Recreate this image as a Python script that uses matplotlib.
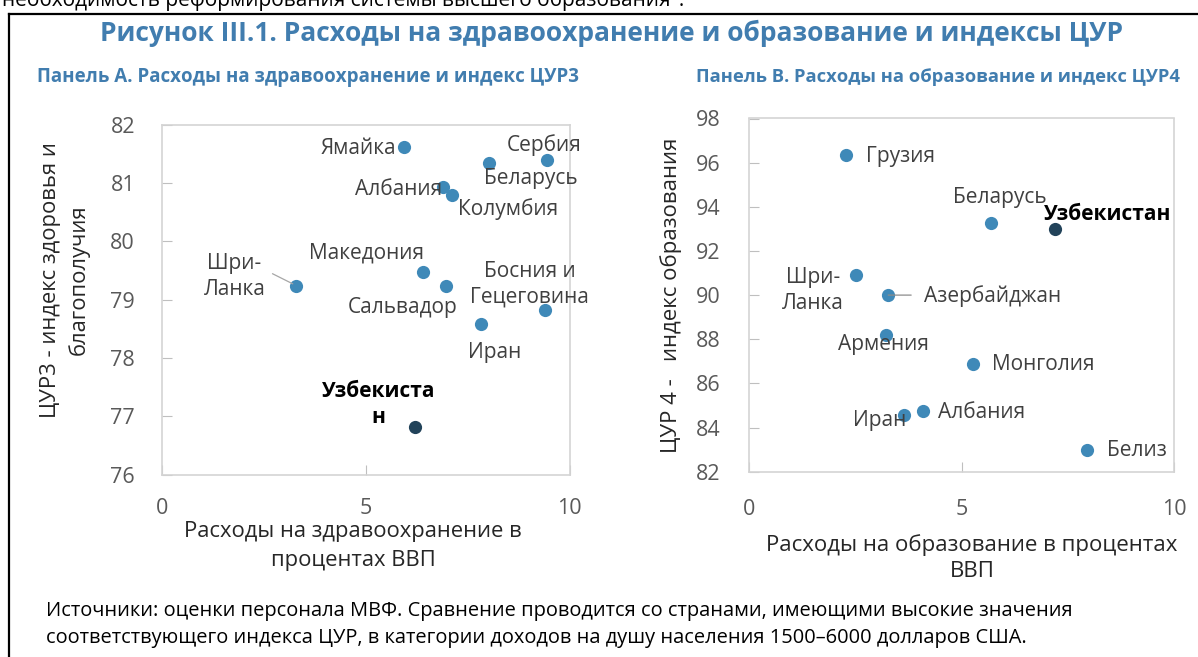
import matplotlib
matplotlib.use("Agg")
import matplotlib.pyplot as plt
from matplotlib.lines import Line2D

plt.rcParams['font.family'] = ['Open Sans', 'DejaVu Sans']

W, H = 1198, 657

# Panel A: health spending (% of GDP) vs SDG3 index
health_countries = ['Ямайка', 'Сербия', 'Беларусь', 'Албания', 'Колумбия', 'Македония',
                    'Шри-Ланка', 'Сальвадор', 'Босния и Гецеговина', 'Иран', 'Узбекистан']
health_spend = [5.95, 9.45, 8.02, 6.89, 7.11, 6.40, 3.30, 6.98, 9.41, 7.83, 6.20]
health_sdg3 = [81.62, 81.40, 81.34, 80.94, 80.79, 79.47, 79.24, 79.24, 78.82, 78.58, 76.81]
health_labels = ['Ямайка', 'Сербия', 'Беларусь', 'Албания', 'Колумбия', 'Македония',
                 'Шри-\nЛанка', 'Сальвадор', 'Босния и\nГецеговина', 'Иран', 'Узбекиста\nн']

# Panel B: education spending (% of GDP) vs SDG4 index
edu_countries = ['Грузия', 'Беларусь', 'Узбекистан', 'Шри-Ланка', 'Азербайджан',
                 'Армения', 'Монголия', 'Албания', 'Иран', 'Белиз']
edu_spend = [2.28, 5.68, 7.19, 2.51, 3.27, 3.23, 5.27, 4.10, 3.65, 7.96]
edu_sdg4 = [96.35, 93.26, 93.0, 90.89, 90.0, 88.2, 86.89, 84.73, 84.58, 83.0]
edu_labels = ['Грузия', 'Беларусь', 'Узбекистан', 'Шри-\nЛанка', 'Азербайджан',
              'Армения', 'Монголия', 'Албания', 'Иран', 'Белиз']

# label placement (pixel offsets from the dot, alignment)
health_pos = [(-8, -2, 'right'), (-3, 15, 'center'), (-5, -15, 'left'), (-1, -3, 'right'),
              (6, -14, 'left'), (-56, 19, 'center'), (-62, 9, 'center'), (-44, -22, 'center'),
              (-16, 26, 'center'), (14, -28, 'center'), (-36, 23, 'center')]
edu_pos = [(20, -2, 'left'), (9, 26, 'center'), (-11, 14, 'left'), (-43, -15, 'center'),
           (36, -1, 'left'), (-3, -10, 'center'), (19, -1, 'left'), (15, -1, 'left'),
           (2, -6, 'right'), (20, -1, 'left')]

blue = '#3f89b8'
dark = '#22435a'
title_blue = '#417daf'
grey = '#595959'
txt = '#404040'

fig = plt.figure(figsize=(W / 100, H / 100), dpi=100)


def ax_at(l, t, r, b):
    return fig.add_axes([l / W, 1 - b / H, (r - l) / W, (b - t) / H])


def style(ax, xpad, ypad):
    for s in ax.spines.values():
        s.set_color('#d4d4d4')
        s.set_linewidth(1.2)
    ax.tick_params(direction='in', length=7, color='#bfbfbf', labelcolor=grey, labelsize=15.5)
    ax.tick_params(axis='x', pad=xpad)
    ax.tick_params(axis='y', pad=ypad)
    ax.set_xlim(0, 10)
    ax.set_xticks([0, 5, 10])


def draw(ax, xs, ys, names, labels, pos):
    for x, y, n, lab, (dx, dy, ha) in zip(xs, ys, names, labels, pos):
        uz = n == 'Узбекистан'
        ax.plot(x, y, 'o', ms=9.5, color=dark if uz else blue, mec='none', zorder=3)
        ax.annotate(lab, (x, y), xytext=(dx, dy), textcoords='offset pixels',
                    ha=ha, va='center', fontsize=15, linespacing=1.3,
                    multialignment='center',
                    color='black' if uz else txt,
                    fontweight='bold' if uz else 'normal', zorder=4)


# panel A
axA = ax_at(162, 124.7, 569.5, 474.7)
style(axA, 17, 19.4)
axA.set_ylim(76, 82)
axA.set_yticks(range(76, 83))
draw(axA, health_spend, health_sdg3, health_countries, health_labels, health_pos)
i = health_countries.index('Шри-Ланка')
axA.annotate('', (health_spend[i], health_sdg3[i]), xytext=(-24, 12), textcoords='offset pixels',
             arrowprops=dict(arrowstyle='-', color='#a6a6a6', lw=0.9, shrinkA=0, shrinkB=3))

# panel B
axB = ax_at(749.3, 118.5, 1174, 471.7)
style(axB, 19.5, 20.6)
axB.set_ylim(82, 98)
axB.set_yticks(range(82, 99, 2))
draw(axB, edu_spend, edu_sdg4, edu_countries, edu_labels, edu_pos)
i = edu_countries.index('Азербайджан')
axB.annotate('', (edu_spend[i], edu_sdg4[i]), xytext=(23, 0), textcoords='offset pixels',
             arrowprops=dict(arrowstyle='-', color='#8c8c8c', lw=0.9, shrinkA=0, shrinkB=0))


def ftext(x, y, s, **kw):
    fig.text(x / W, 1 - y / H, s, **kw)


# axis titles
ftext(353, 546, 'Расходы на здравоохранение в\nпроцентах ВВП', ha='center', va='center',
      fontsize=15.8, color='#262626', linespacing=1.45)
ftext(65, 280, 'ЦУР3 - индекс здоровья и\nблагополучия', ha='center', va='center',
      rotation=90, fontsize=15.8, color='#262626', linespacing=1.45)
ftext(972, 558, 'Расходы на образование в процентах\nВВП', ha='center', va='center',
      fontsize=16, color='#262626', linespacing=1.35)
ftext(671, 295, 'ЦУР 4 -   индекс образования', ha='center', va='center',
      rotation=90, fontsize=16, color='#262626')

# titles
ftext(611, 33, 'Рисунок III.1. Расходы на здравоохранение и образование и индексы ЦУР',
      ha='center', va='center', fontsize=19, fontweight='bold', color=title_blue)
ftext(37, 77, 'Панель А. Расходы на здравоохранение и индекс ЦУР3',
      ha='left', va='center', fontsize=13.5, fontweight='bold', color=title_blue)
ftext(696, 77, 'Панель В. Расходы на образование и индекс ЦУР4',
      ha='left', va='center', fontsize=13.2, fontweight='bold', color=title_blue)

# footnote
ftext(46, 611, 'Источники: оценки персонала МВФ. Сравнение проводится со странами, имеющими высокие значения',
      ha='left', va='center', fontsize=14.4, color='black')
ftext(46, 638, 'соответствующего индекса ЦУР, в категории доходов на душу населения 1500–6000 долларов США.',
      ha='left', va='center', fontsize=14.4, color='black')

# clipped line of body text above the box
ftext(2, 6, 'необходимость реформирования системы высшего образования".',
      ha='left', va='baseline', fontsize=15, color='black')

# box border (left and top only visible)
fig.add_artist(Line2D([8.5 / W, 8.5 / W], [0, 1 - 13.5 / H], color='black', lw=1.6))
fig.add_artist(Line2D([8.5 / W, 1], [1 - 13.5 / H, 1 - 13.5 / H], color='black', lw=1.6))

fig.savefig('out.png', dpi=100)
